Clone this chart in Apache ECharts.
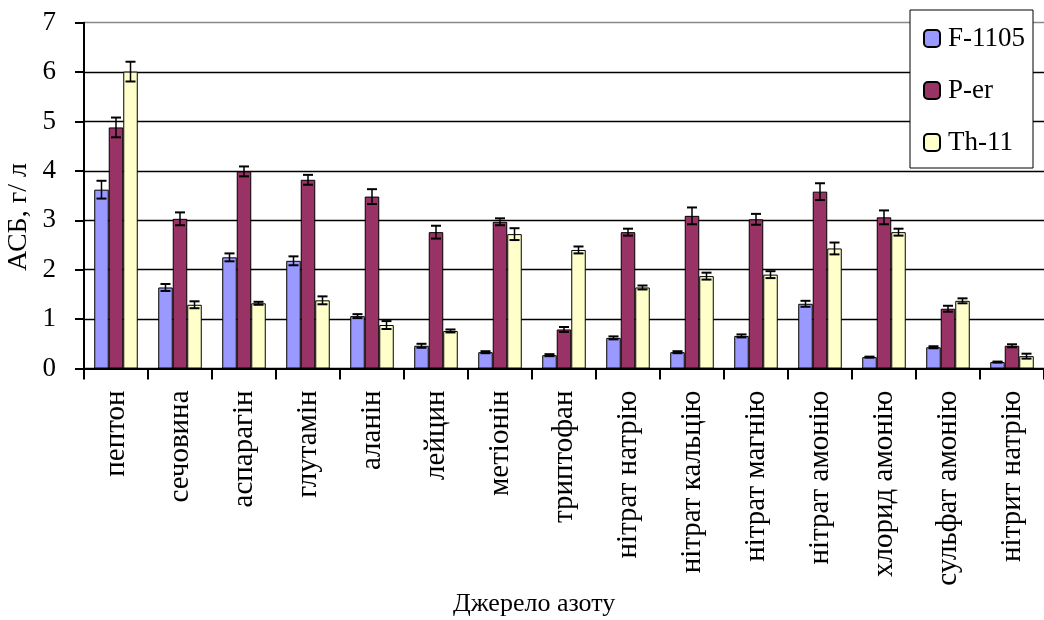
<!DOCTYPE html>
<html>
<head>
<meta charset="utf-8">
<script src="https://cdn.jsdelivr.net/npm/echarts@6/dist/echarts.min.js"></script>
<style>html,body{margin:0;padding:0;background:#fff;}#chart{width:1044px;height:620px;}</style>
</head>
<body>
<div id="chart"></div>
<script>
const categories = ['пептон','сечовина','аспарагін','глутамін','аланін','лейцин','метіонін','триптофан','нітрат натрію','нітрат кальцію','нітрат магнію','нітрат амонію','хлорид амонію','сульфат амонію','нітрит натрію'];
const seriesNames = ['F-1105','P-er','Th-11'];
const f1105 = [3.62,1.64,2.25,2.18,1.06,0.46,0.33,0.27,0.62,0.33,0.66,1.31,0.23,0.43,0.13];
const f1105Err = [0.18,0.07,0.08,0.09,0.04,0.04,0.02,0.02,0.03,0.02,0.03,0.06,0.01,0.02,0.01];
const pEr = [4.88,3.03,3.99,3.82,3.48,2.76,2.97,0.79,2.76,3.09,3.02,3.58,3.06,1.21,0.46];
const pErErr = [0.2,0.13,0.1,0.1,0.15,0.13,0.07,0.05,0.07,0.17,0.11,0.17,0.14,0.06,0.03];
const th11 = [6.01,1.29,1.32,1.38,0.88,0.76,2.72,2.40,1.64,1.87,1.90,2.43,2.76,1.37,0.25];
const th11Err = [0.2,0.07,0.03,0.08,0.08,0.03,0.12,0.07,0.04,0.07,0.07,0.12,0.07,0.05,0.05];
const yTicks = [0,1,2,3,4,5,6,7];

const colors = ['#9999FF','#993366','#FFFFCC'];
const FONT = '"Liberation Serif","Times New Roman",serif';
const CAT_GAP = 0.32;

function barSeries(name, data, color) {
  return {
    name: name, type: 'bar', data: data,
    barGap: '0%', barCategoryGap: (CAT_GAP*100) + '%',
    itemStyle: { color: color, borderColor: '#000', borderWidth: 1 },
    z: 2
  };
}
function errSeries(idx, values, errs) {
  return {
    type: 'custom', z: 5, silent: true,
    data: values.map((v, i) => [i, v, errs[i]]),
    renderItem: function (params, api) {
      const ci = api.value(0), v = api.value(1), e = api.value(2);
      const c = api.coord([ci, v]);
      const band = api.size([1, 0])[0];
      const bw = band * (1 - CAT_GAP) / 3;
      const x = c[0] + (idx - 1) * bw;
      const top = api.coord([ci, v + e])[1];
      const bot = api.coord([ci, v - e])[1];
      const cap = 5;
      const st = { stroke: '#000', lineWidth: 2 };
      return { type: 'group', children: [
        { type: 'line', shape: { x1: x, y1: top, x2: x, y2: bot }, style: { stroke: '#000', lineWidth: 1.5 } },
        { type: 'line', shape: { x1: x - cap, y1: top, x2: x + cap, y2: top }, style: st },
        { type: 'line', shape: { x1: x - cap, y1: bot, x2: x + cap, y2: bot }, style: st }
      ]};
    }
  };
}

const chart = echarts.init(document.getElementById('chart'), null, { renderer: 'canvas' });
chart.setOption({
  animation: false,
  backgroundColor: '#fff',
  textStyle: { fontFamily: FONT, color: '#000' },
  grid: { left: 84, top: 22.7, width: 972, height: 345.8, containLabel: false },
  legend: {
    data: seriesNames, orient: 'vertical', left: 910, top: 10,
    padding: [15, 8, 12, 13], itemGap: 25, itemWidth: 16, itemHeight: 17,
    backgroundColor: '#fff', borderColor: '#000', borderWidth: 1,
    textStyle: { fontFamily: FONT, fontSize: 27, color: '#000', lineHeight: 27, padding: [0,0,0,3] }
  },
  xAxis: {
    type: 'category', data: categories,
    axisLine: { lineStyle: { color: '#000', width: 2 } },
    axisTick: { show: true, length: 11, lineStyle: { color: '#000', width: 2 } },
    axisLabel: { rotate: 90, margin: 22, fontFamily: FONT, fontSize: 29, color: '#000', interval: 0 },
    splitLine: { show: false }
  },
  yAxis: {
    type: 'value', min: 0, max: 7, interval: 1,
    axisLine: { show: true, lineStyle: { color: '#000', width: 2 } },
    axisTick: { show: true, length: 9, lineStyle: { color: '#000', width: 2 } },
    axisLabel: { margin: 28, fontFamily: FONT, fontSize: 27, color: '#000',
      formatter: function (v) { return yTicks.indexOf(v) >= 0 ? String(v) : ''; } },
    splitLine: { show: true, lineStyle: { color: ['#000','#000','#000','#000','#000','#000','#000','#888'], width: 1.3 } }
  },
  graphic: [
    { type: 'text', left: 453, top: 591, style: { text: 'Джерело азоту', font: '26px ' + FONT, fill: '#000' } },
    { type: 'text', x: 19, y: 217, rotation: Math.PI / 2, style: { text: 'АСБ, г/ л', font: '28px ' + FONT, fill: '#000', align: 'center', verticalAlign: 'middle' } }
  ],
  series: [
    barSeries(seriesNames[0], f1105, colors[0]),
    barSeries(seriesNames[1], pEr, colors[1]),
    barSeries(seriesNames[2], th11, colors[2]),
    errSeries(0, f1105, f1105Err),
    errSeries(1, pEr, pErErr),
    errSeries(2, th11, th11Err)
  ]
});
</script>
</body>
</html>
